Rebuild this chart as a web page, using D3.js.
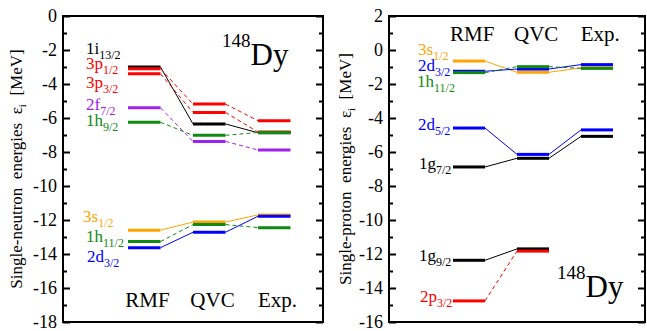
<!DOCTYPE html>
<html>
<head>
<meta charset="utf-8">
<script src="https://cdn.jsdelivr.net/npm/d3@7"></script>
<style>
body { margin: 0; background: #fff; }
svg { display: block; }
</style>
</head>
<body>
<svg id="chart" width="647" height="331" style="font-family: 'Liberation Serif', 'DejaVu Serif', serif;"></svg>
<script>
// data
var methods = ["RMF", "QVC", "Exp."];

var neutronStates = ["1i13/2", "3p1/2", "3p3/2", "2f7/2", "1h9/2", "3s1/2", "1h11/2", "2d3/2"];
var neutronRMF = [-3.0, -3.1, -3.4, -5.4, -6.25, -12.6, -13.27, -13.63];
var neutronQVC = [-6.35, -5.18, -5.67, -7.38, -7.02, -12.12, -12.27, -12.72];
var neutronExp = [-6.87, -6.16, -6.83, -7.88, -6.85, -11.7, -12.45, -11.78];

var protonStates = ["3s1/2", "2d3/2", "1h11/2", "2d5/2", "1g7/2", "1g9/2", "2p3/2"];
var protonRMF = [-0.65, -1.25, -1.33, -4.59, -6.88, -12.37, -14.76];
var protonQVC = [-1.31, -1.12, -0.98, -6.14, -6.37, -11.7, -11.83];
var protonExp = [-1.05, -0.86, -1.08, -4.7, -5.08, null, null];

var neutronTicks = d3.range(-18, 1, 2);
var protonTicks = d3.range(-16, 3, 2);

// colours per state
var stateColor = {
  "1i13/2": "#000000", "3p1/2": "#ff0000", "3p3/2": "#ff0000", "2f7/2": "#a020f0",
  "1h9/2": "#118a11", "3s1/2": "#ffa500", "1h11/2": "#118a11", "2d3/2": "#0000ff",
  "2d5/2": "#0000ff", "1g7/2": "#000000", "1g9/2": "#000000", "2p3/2": "#ff0000"
};

var FONT = "'Liberation Serif', 'DejaVu Serif', serif";
var svg = d3.select("#chart");

function drawPanel(cfg) {
  var x = d3.scaleLinear().domain([0, 4]).range([cfg.x0, cfg.x1]);
  var y = d3.scaleLinear().domain(cfg.domain).range([322, 16]);
  var g = svg.append("g").style("font-family", FONT);

  var series = cfg.states.map(function(s, i) {
    return { name: s, vals: cfg.values.map(function(a) { return a[i]; }) };
  });

  // axes: major + minor ticks, left and right, pointing inward
  var minor = d3.range(cfg.domain[0] + 1, cfg.domain[1], 2);
  function clean(a) {
    a.select(".domain").remove();
    a.attr("font-family", null);
    a.selectAll("line").attr("stroke-width", 2);
  }
  g.append("g").attr("transform", "translate(" + cfg.x0 + ",0)")
    .call(d3.axisLeft(y).tickValues(cfg.ticks).tickSize(-7).tickPadding(6)
      .tickFormat(function(d) { return String(d); }))
    .call(clean)
    .call(function(a) {
      a.selectAll("text").attr("font-size", 18).style("font-family", FONT).attr("fill", "#000");
    });
  g.append("g").attr("transform", "translate(" + cfg.x0 + ",0)")
    .call(d3.axisLeft(y).tickValues(minor).tickSize(-4).tickFormat("")).call(clean);
  g.append("g").attr("transform", "translate(" + cfg.x1 + ",0)")
    .call(d3.axisRight(y).tickValues(cfg.ticks).tickSize(-7).tickFormat("")).call(clean);
  g.append("g").attr("transform", "translate(" + cfg.x1 + ",0)")
    .call(d3.axisRight(y).tickValues(minor).tickSize(-4).tickFormat("")).call(clean);

  g.append("rect")
    .attr("x", cfg.x0).attr("y", 16)
    .attr("width", cfg.x1 - cfg.x0).attr("height", 306)
    .attr("fill", "none").attr("stroke", "#000").attr("stroke-width", 2);

  // axis title
  var title = g.append("text")
    .attr("transform", "translate(" + cfg.titleX + ",169) rotate(-90)")
    .attr("text-anchor", "middle")
    .attr("font-size", 17)
    .style("white-space", "pre");
  title.append("tspan").text(cfg.title + "  ε");
  title.append("tspan").attr("font-size", 11).attr("dy", 4).text("i");
  title.append("tspan").attr("dy", -4).text("  [MeV]");

  series.forEach(function(s) {
    var col = stateColor[s.name];
    var l = "spdfghi".indexOf(s.name.charAt(1));
    var dash = (l % 2 === 1) ? "4,3" : null;
    // connectors
    for (var j = 0; j < s.vals.length - 1; j++) {
      if (s.vals[j] == null || s.vals[j + 1] == null) continue;
      g.append("line")
        .attr("x1", x(j + 1.5)).attr("y1", y(s.vals[j]))
        .attr("x2", x(j + 2)).attr("y2", y(s.vals[j + 1]))
        .attr("stroke", col).attr("stroke-width", 1)
        .attr("stroke-dasharray", dash);
    }
    // levels
    s.vals.forEach(function(v, j) {
      if (v == null) return;
      g.append("line")
        .attr("x1", x(j + 1)).attr("y1", y(v))
        .attr("x2", x(j + 1.5)).attr("y2", y(v))
        .attr("stroke", col).attr("stroke-width", 3);
    });
  });

  // state labels
  series.forEach(function(s, i) {
    var m = s.name.match(/^(\d[a-z])(.*)$/);
    var t = g.append("text")
      .attr("x", cfg.labelX[i]).attr("y", y(cfg.labelAt[i]))
      .attr("fill", stateColor[s.name])
      .attr("font-size", 17);
    t.append("tspan").text(m[1]);
    t.append("tspan").attr("font-size", 12).attr("dy", 5).text(m[2]);
  });

  // method names
  g.selectAll(".method").data(methods).enter().append("text")
    .attr("x", function(d, j) { return x(j + 1.3); })
    .attr("y", cfg.methodY)
    .attr("text-anchor", "middle")
    .attr("font-size", 21)
    .text(function(d) { return d; });

  // nucleus
  var nuc = g.append("text").attr("x", cfg.nucX).attr("y", cfg.nucY);
  nuc.append("tspan").attr("font-size", 19).attr("dy", -18).text("148");
  nuc.append("tspan").attr("font-size", 31).attr("dy", 18).text("Dy");
}

drawPanel({
  x0: 63, x1: 323, domain: [-18, 0], ticks: neutronTicks,
  states: neutronStates, values: [neutronRMF, neutronQVC, neutronExp],
  title: "Single-neutron  energies", titleX: 22,
  labelX: [86, 86, 86, 86, 86, 83, 86, 87],
  labelAt: [-2.22, -3.12, -4.24, -5.53, -6.47, -12.12, -13.3, -14.45],
  methodY: 307, nucX: 222, nucY: 65
});

drawPanel({
  x0: 389, x1: 645, domain: [-16, 2], ticks: protonTicks,
  states: protonStates, values: [protonRMF, protonQVC, protonExp],
  title: "Single-proton  energies", titleX: 351,
  labelX: [418, 418, 417, 418, 419, 419, 420],
  labelAt: [-0.29, -1.22, -2.18, -4.7, -7.0, -12.4, -14.82],
  methodY: 41, nucX: 557, nucY: 297
});
</script>
</body>
</html>
